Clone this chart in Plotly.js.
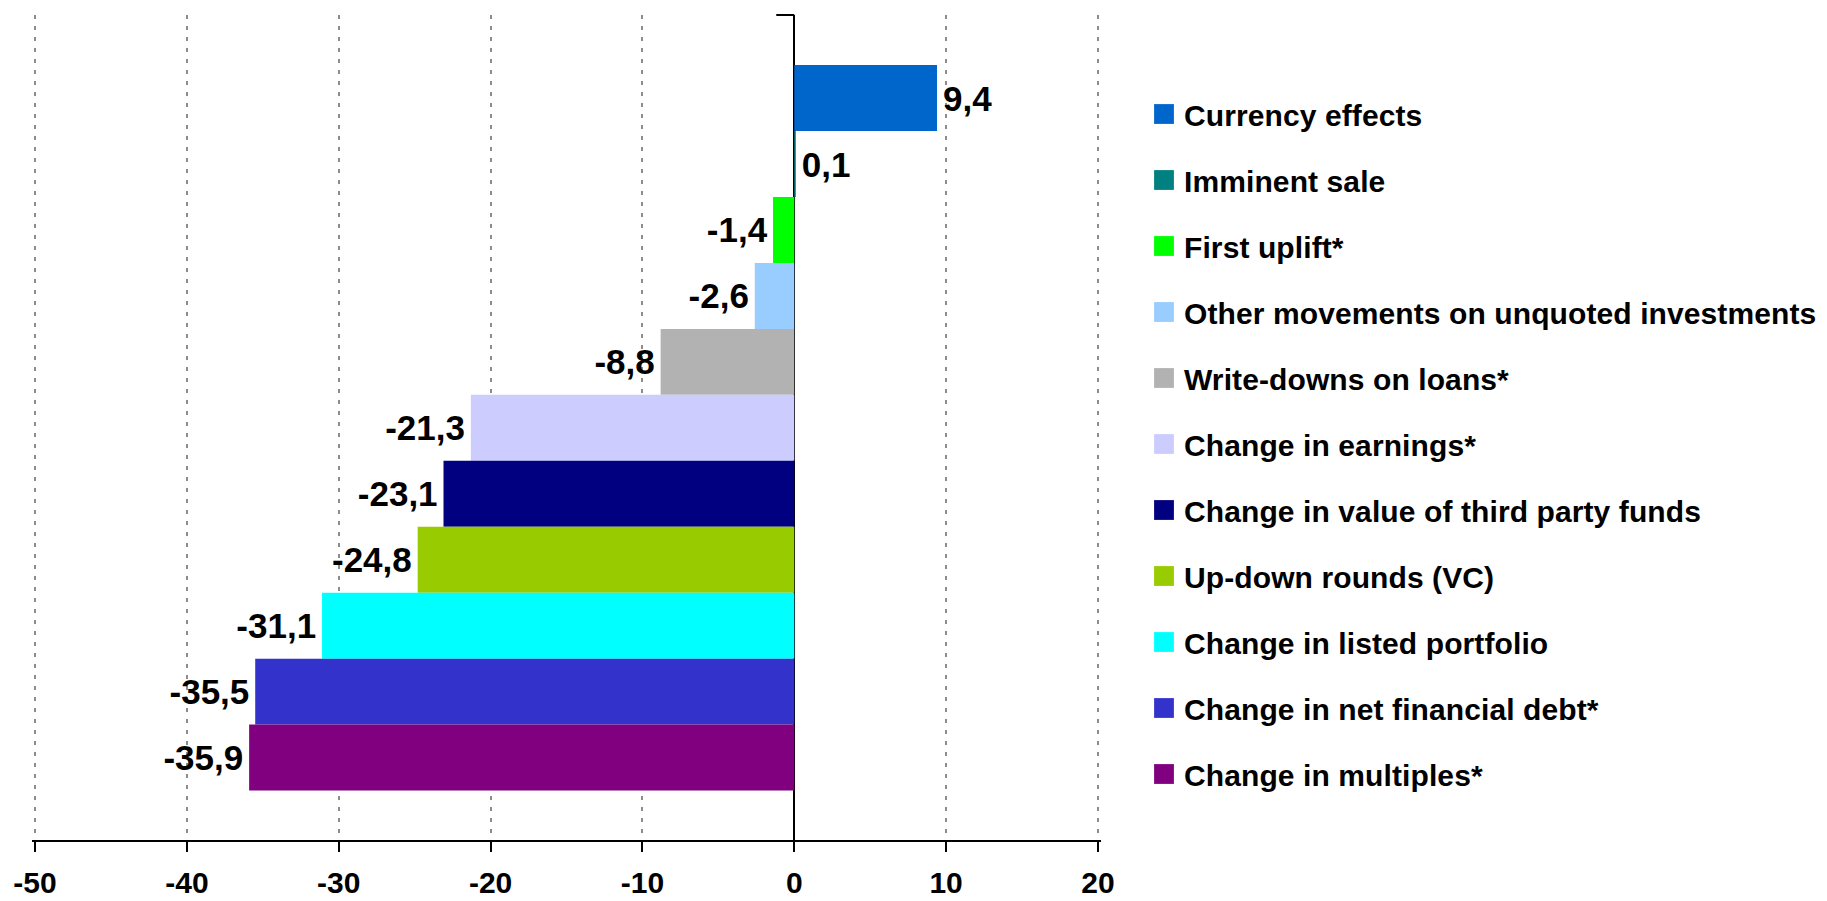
<!DOCTYPE html>
<html>
<head>
<meta charset="utf-8">
<script src="https://cdn.plot.ly/plotly-3.0.1.min.js"></script>
<style>
  html, body { margin: 0; padding: 0; background: #fff; }
  #chart { width: 1827px; height: 901px; }
  .legend .legendpoints path { transform: translate(20px, 0px) scale(1.65); }
  .legend .legendtext { letter-spacing: 0.1px; }
</style>
</head>
<body>
<div id="chart"></div>
<script>
const categories = [
  "Currency effects",
  "Imminent sale",
  "First uplift*",
  "Other movements on unquoted investments",
  "Write-downs on loans*",
  "Change in earnings*",
  "Change in value of third party funds",
  "Up-down rounds (VC)",
  "Change in listed portfolio",
  "Change in net financial debt*",
  "Change in multiples*"
];
const values = [9.4, 0.1, -1.4, -2.6, -8.8, -21.3, -23.1, -24.8, -31.1, -35.5, -35.9];
const colors = ["#0066CC", "#008080", "#00FF00", "#99CCFF", "#B2B2B2", "#CCCCFF",
                "#000080", "#99CC00", "#00FFFF", "#3333CC", "#800080"];
const tickValues = [-50, -40, -30, -20, -10, 0, 10, 20];
const tickLabels = ["-50", "-40", "-30", "-20", "-10", "0", "10", "20"];

const FONT = "Liberation Sans, Arial, sans-serif";
const HAIR = "\u200A";
// decimal comma; a hair space keeps the label a little off the bar end
const fmt = v => {
  const s = v.toFixed(1).replace(".", ",");
  return v < 0 ? s + HAIR : HAIR + s;
};

const traces = categories.map((c, i) => ({
  type: "bar",
  orientation: "h",
  name: c,
  legendgroup: c,
  y: [c],
  x: [values[i]],
  width: [1],
  marker: { color: colors[i], line: { width: 0 } },
  text: [fmt(values[i])],
  textposition: "outside",
  constraintext: "none",
  cliponaxis: false,
  textfont: { family: FONT, size: 35, weight: "bold", color: "#000" },
  hoverinfo: "x+name"
}));

const layout = {
  width: 1827,
  height: 901,
  margin: { l: 32, r: 726, t: 15, b: 61, pad: 0 },
  paper_bgcolor: "#fff",
  plot_bgcolor: "#fff",
  barmode: "overlay",
  showlegend: true,
  font: { family: FONT, color: "#000" },
  xaxis: {
    range: [-50.2, 20.2],
    tickmode: "array",
    tickvals: tickValues,
    ticktext: tickLabels,
    ticks: "outside",
    ticklen: 10,
    tickwidth: 2,
    tickcolor: "#000",
    ticklabelstandoff: 5,
    tickfont: { family: FONT, size: 30, weight: "bold", color: "#000" },
    showline: true,
    linecolor: "#000",
    linewidth: 2,
    showgrid: true,
    gridcolor: "#8c8c8c",
    gridwidth: 2,
    griddash: "4px,7px",
    zeroline: true,
    zerolinecolor: "#000",
    zerolinewidth: 2,
    fixedrange: true
  },
  yaxis: {
    type: "category",
    categoryorder: "array",
    categoryarray: categories,
    range: [11.25, -1.26],
    showticklabels: false,
    showgrid: false,
    zeroline: false,
    showline: false,
    ticks: "",
    fixedrange: true
  },
  legend: {
    xref: "container",
    yref: "container",
    x: 1144 / 1827,
    y: 1 - 88 / 901,
    xanchor: "left",
    yanchor: "top",
    traceorder: "grouped",
    tracegroupgap: 24,
    maxheight: 900,
    font: { family: FONT, size: 30, weight: "bold", color: "#000" },
    bgcolor: "rgba(0,0,0,0)",
    borderwidth: 0,
    itemclick: false,
    itemdoubleclick: false
  },
  shapes: [{
    type: "line",
    xref: "x",
    yref: "paper",
    xsizemode: "pixel",
    xanchor: 0,
    x0: -18,
    x1: 0,
    y0: 1,
    y1: 1,
    line: { color: "#000", width: 2 }
  }]
};

Plotly.newPlot("chart", traces, layout, { displayModeBar: false, staticPlot: true });
</script>
</body>
</html>
